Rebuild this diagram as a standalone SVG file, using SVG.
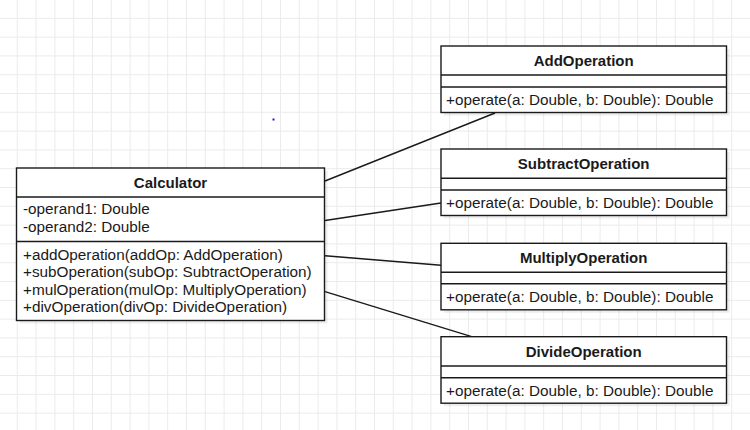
<svg xmlns="http://www.w3.org/2000/svg" width="750" height="430" viewBox="0 0 750 430">
<style>
.box{fill:#fff;stroke:#1a1a1a;stroke-width:1.4}
.sep{stroke:#1a1a1a;stroke-width:1.4;fill:none}
.shadow{fill:#000;fill-opacity:0.07}
.t{font-family:"Liberation Sans",Arial,sans-serif;font-size:15.3px;fill:#1a1a1a}
.title{font-family:"Liberation Sans",Arial,sans-serif;font-size:15px;font-weight:bold;fill:#1a1a1a;text-anchor:middle}
.conn{stroke:#1a1a1a;stroke-width:1.4;fill:none}
</style>
<defs>
<pattern id="grid" x="16.8" y="17.8" width="18.8" height="18.8" patternUnits="userSpaceOnUse">
<rect x="0" y="0" width="1" height="18.8" fill="#ebebeb"/>
<rect x="0" y="0" width="18.8" height="1" fill="#ebebeb"/>
</pattern>
</defs>
<rect width="750" height="430" fill="#fff"/>
<rect width="750" height="430" fill="url(#grid)"/>
<rect x="272.5" y="118.5" width="2" height="2" fill="#1a1acc"/>

<g id="connectors">
<line class="conn" x1="325" y1="181" x2="495" y2="113"/>
<line class="conn" x1="325" y1="220.5" x2="441" y2="203"/>
<line class="conn" x1="325" y1="255.7" x2="441" y2="265.3"/>
<line class="conn" x1="325" y1="291.7" x2="471.7" y2="336.7"/>
</g>

<g id="Calculator">
<rect class="shadow" x="19.5" y="171" width="308" height="152.5"/>
<rect class="box" x="16.5" y="168" width="308" height="152.5"/>
<line class="sep" x1="16.5" y1="197" x2="324.5" y2="197"/>
<line class="sep" x1="16.5" y1="241.5" x2="324.5" y2="241.5"/>
<text class="title" x="170.5" y="188">Calculator</text>
<text class="t" x="23" y="214.3">-operand1: Double</text>
<text class="t" x="23" y="231.8">-operand2: Double</text>
<text class="t" x="23" y="259.5">+addOperation(addOp: AddOperation)</text>
<text class="t" x="23" y="277">+subOperation(subOp: SubtractOperation)</text>
<text class="t" x="23" y="294.5">+mulOperation(mulOp: MultiplyOperation)</text>
<text class="t" x="23" y="312">+divOperation(divOp: DivideOperation)</text>
</g>

<g id="AddOperation">
<rect class="shadow" x="444" y="49" width="285.5" height="66.5"/>
<rect class="box" x="441" y="46" width="285.5" height="66.5"/>
<line class="sep" x1="441" y1="75" x2="726.5" y2="75"/>
<line class="sep" x1="441" y1="87" x2="726.5" y2="87"/>
<text class="title" x="583.7" y="66">AddOperation</text>
<text class="t" x="446" y="105">+operate(a: Double, b: Double): Double</text>
</g>

<g id="SubtractOperation">
<rect class="shadow" x="444" y="152" width="285.5" height="66.5"/>
<rect class="box" x="441" y="149" width="285.5" height="66.5"/>
<line class="sep" x1="441" y1="178.3" x2="726.5" y2="178.3"/>
<line class="sep" x1="441" y1="190" x2="726.5" y2="190"/>
<text class="title" x="583.7" y="169">SubtractOperation</text>
<text class="t" x="446" y="208">+operate(a: Double, b: Double): Double</text>
</g>

<g id="MultiplyOperation">
<rect class="shadow" x="444" y="246.3" width="285.5" height="66.5"/>
<rect class="box" x="441" y="243.3" width="285.5" height="66.5"/>
<line class="sep" x1="441" y1="272.3" x2="726.5" y2="272.3"/>
<line class="sep" x1="441" y1="283.7" x2="726.5" y2="283.7"/>
<text class="title" x="583.7" y="263.3">MultiplyOperation</text>
<text class="t" x="446" y="302.3">+operate(a: Double, b: Double): Double</text>
</g>

<g id="DivideOperation">
<rect class="shadow" x="444" y="339.7" width="285.5" height="66.5"/>
<rect class="box" x="441" y="336.7" width="285.5" height="66.5"/>
<line class="sep" x1="441" y1="366" x2="726.5" y2="366"/>
<line class="sep" x1="441" y1="377.7" x2="726.5" y2="377.7"/>
<text class="title" x="583.7" y="356.7">DivideOperation</text>
<text class="t" x="446" y="395.7">+operate(a: Double, b: Double): Double</text>
</g>
</svg>
